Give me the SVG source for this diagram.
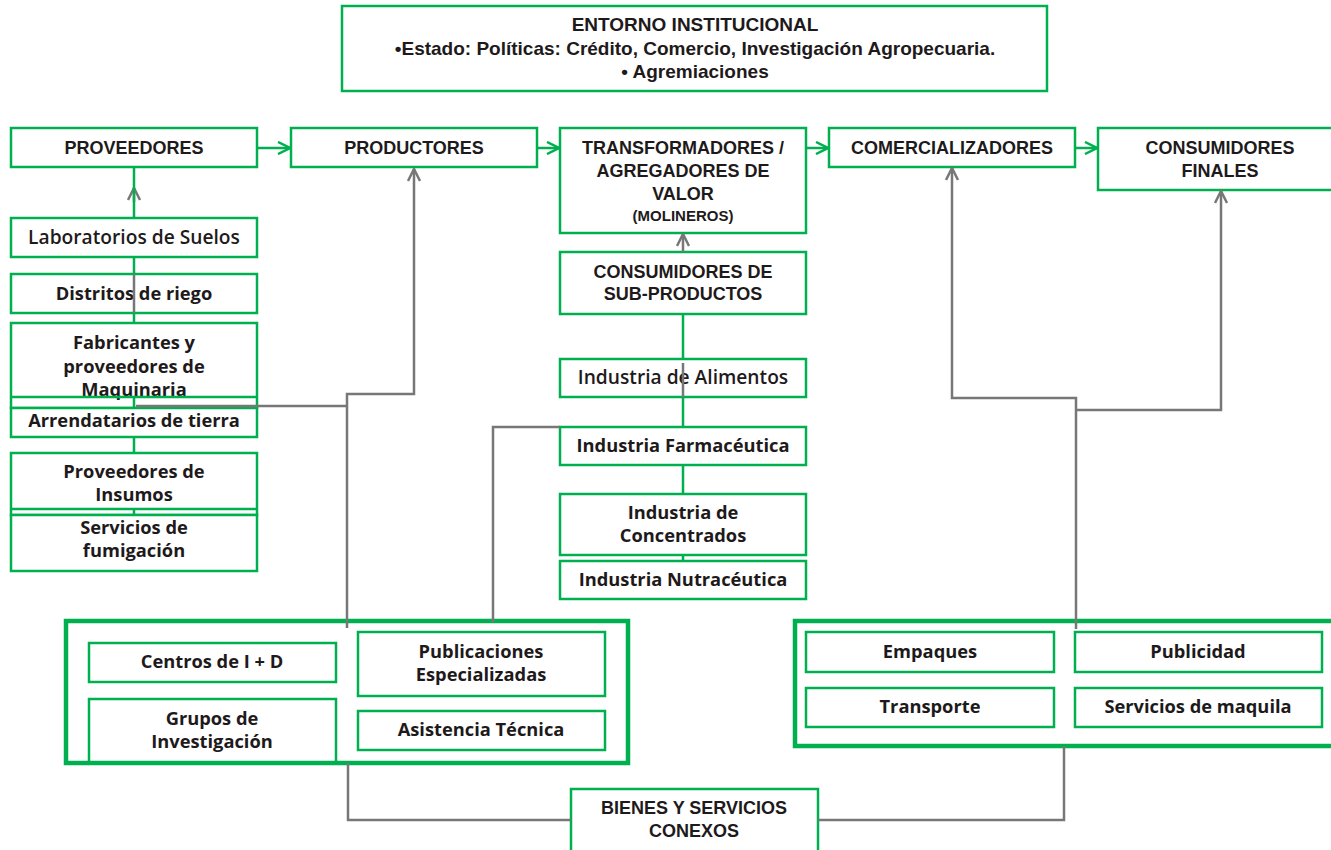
<svg xmlns="http://www.w3.org/2000/svg" width="1331" height="850" viewBox="0 0 1331 850">
<style>
.box{fill:#fff;stroke:#00b050;stroke-width:2.5}
.nofill{fill:none;stroke:#00b050;stroke-width:2.5}
.outer{fill:none;stroke:#00b050;stroke-width:4.5}
.g{fill:none;stroke:#00b050;stroke-width:2.5}
.k{fill:none;stroke:#777;stroke-width:2.5}
text{fill:#1e1a1b;text-anchor:middle}
.u{font-family:"Liberation Sans",Arial,sans-serif;font-weight:bold;font-size:18px}
.t{font-family:"Liberation Sans",Arial,sans-serif;font-weight:bold;font-size:19px}
.b{font-family:"Open Sans","Liberation Sans",sans-serif;font-weight:700;font-size:18.3px}
.s{font-family:"Open Sans","Liberation Sans",sans-serif;font-weight:600;font-size:19.2px}
.sm{font-family:"Liberation Sans",Arial,sans-serif;font-weight:bold;font-size:15px}
</style>
<defs>
<marker id="ag" viewBox="0 0 14 14" refX="13" refY="7" markerWidth="14" markerHeight="14" markerUnits="userSpaceOnUse" orient="auto"><path d="M1,1 L13,7 L1,13" fill="none" stroke="#00b050" stroke-width="2.5"/></marker>
<marker id="ak" viewBox="0 0 14 14" refX="13" refY="7" markerWidth="14" markerHeight="14" markerUnits="userSpaceOnUse" orient="auto"><path d="M1,1 L13,7 L1,13" fill="none" stroke="#777" stroke-width="2.5"/></marker>
</defs>

<g id="entorno"><rect class="box" x="342" y="6" width="705" height="85"/>
<text class="t" x="695" y="31">ENTORNO INSTITUCIONAL</text>
<text class="t" x="695" y="55">•Estado: Políticas: Crédito, Comercio, Investigación Agropecuaria.</text>
<text class="t" x="695" y="78">• Agremiaciones</text></g>

<g id="proveedores"><rect class="box" x="11" y="128" width="246" height="39"/><text class="u" x="134" y="154">PROVEEDORES</text></g>
<g id="productores"><rect class="box" x="291" y="128" width="246" height="39"/><text class="u" x="414" y="154">PRODUCTORES</text></g>
<g id="transformadores"><rect class="box" x="560" y="128" width="246" height="105"/>
<text class="u" x="683" y="154">TRANSFORMADORES /</text>
<text class="u" x="683" y="177">AGREGADORES DE</text>
<text class="u" x="683" y="200">VALOR</text>
<text class="sm" x="683" y="221">(MOLINEROS)</text></g>
<g id="comercializadores"><rect class="box" x="829" y="128" width="246" height="39"/><text class="u" x="952" y="154">COMERCIALIZADORES</text></g>
<g id="consumidores-finales"><rect class="box" x="1098" y="128" width="245" height="62"/>
<text class="u" x="1220" y="154">CONSUMIDORES</text><text class="u" x="1220" y="177">FINALES</text></g>

<g id="laboratorios"><rect class="box" x="11" y="218" width="246" height="39"/><text class="s" x="134" y="244">Laboratorios de Suelos</text></g>
<g id="distritos"><rect class="nofill" x="11" y="274" width="246" height="39"/><text class="b" x="134" y="300">Distritos de riego</text></g>
<g id="fabricantes"><rect class="box" x="11" y="323" width="246" height="85"/>
<text class="b" x="134" y="349">Fabricantes y</text><text class="b" x="134" y="373">proveedores de</text><text class="b" x="134" y="396">Maquinaria</text></g>
<g id="arrendatarios"><rect class="box" x="11" y="408" width="246" height="29"/><line class="g" x1="11" y1="397" x2="257" y2="397"/><text class="b" x="134" y="427">Arrendatarios de tierra</text></g>
<g id="insumos"><rect class="box" x="11" y="453" width="246" height="62"/><text class="b" x="134" y="478">Proveedores de</text><text class="b" x="134" y="501">Insumos</text></g>
<g id="fumigacion"><rect class="box" x="11" y="515" width="246" height="56"/><line class="g" x1="11" y1="509" x2="257" y2="509"/><text class="b" x="134" y="534">Servicios de</text><text class="b" x="134" y="557">fumigación</text></g>

<g id="subproductos"><rect class="box" x="560" y="252" width="246" height="62"/><text class="u" x="683" y="278">CONSUMIDORES DE</text><text class="u" x="683" y="300">SUB-PRODUCTOS</text></g>
<g id="alimentos"><rect class="box" x="560" y="359" width="246" height="38"/><text class="s" x="683" y="384">Industria de Alimentos</text></g>
<g id="farmaceutica"><rect class="box" x="560" y="427" width="246" height="38"/><text class="b" x="683" y="452">Industria Farmacéutica</text></g>
<g id="concentrados"><rect class="box" x="560" y="494" width="246" height="61"/><text class="b" x="683" y="519">Industria de</text><text class="b" x="683" y="542">Concentrados</text></g>
<g id="nutraceutica"><rect class="box" x="560" y="561" width="246" height="38"/><text class="b" x="683" y="586">Industria Nutracéutica</text></g>

<g id="grupo-conocimiento"><rect class="outer" x="66" y="621" width="562" height="142"/></g>
<g id="centros"><rect class="box" x="89" y="643" width="247" height="39"/><text class="b" x="212" y="668">Centros de I + D</text></g>
<g id="grupos"><rect class="nofill" x="89" y="699" width="247" height="64"/><text class="b" x="212" y="725">Grupos de</text><text class="b" x="212" y="748">Investigación</text></g>
<g id="publicaciones"><rect class="box" x="358" y="632" width="247" height="64"/><text class="b" x="481" y="658">Publicaciones</text><text class="b" x="481" y="681">Especializadas</text></g>
<g id="asistencia"><rect class="box" x="358" y="711" width="247" height="39"/><text class="b" x="481" y="736">Asistencia Técnica</text></g>

<g id="grupo-servicios"><rect class="outer" x="795" y="621" width="550" height="125"/></g>
<g id="empaques"><rect class="box" x="806" y="632" width="248" height="40"/><text class="b" x="930" y="658">Empaques</text></g>
<g id="publicidad"><rect class="box" x="1075" y="632" width="247" height="40"/><text class="b" x="1198" y="658">Publicidad</text></g>
<g id="transporte"><rect class="box" x="806" y="688" width="248" height="39"/><text class="b" x="930" y="713">Transporte</text></g>
<g id="maquila"><rect class="box" x="1075" y="688" width="247" height="39"/><text class="b" x="1198" y="713">Servicios de maquila</text></g>

<g id="bienes"><rect class="box" x="571" y="789" width="247" height="80"/><text class="u" x="694" y="814">BIENES Y SERVICIOS</text><text class="u" x="694" y="837">CONEXOS</text></g>

<g id="connectors">
<path class="g" d="M257,148 H290" marker-end="url(#ag)"/>
<path class="g" d="M537,148 H559" marker-end="url(#ag)"/>
<path class="g" d="M806,148 H828" marker-end="url(#ag)"/>
<path class="g" d="M1075,148 H1097" marker-end="url(#ag)"/>
<path class="k" d="M134,202 V188" marker-end="url(#ak)"/>
<path class="k" d="M134,274 V313"/>
<path class="g" d="M134,167 V218 M134,257 V274 M134,313 V323 M134,397 V408 M134,437 V453 M134,509 V515"/>
<path class="k" d="M136,406 H347"/>
<path class="k" d="M347,628 V394 H414 V169" marker-end="url(#ak)"/>
<path class="k" d="M493,622 V427 H560"/>
<path class="k" d="M683,363 V397"/>
<path class="k" d="M683,252 V234" marker-end="url(#ak)"/>
<path class="g" d="M683,314 V359 M683,397 V427 M683,465 V494 M683,555 V561"/>
<path class="k" d="M1076,629 V398 H952 V168" marker-end="url(#ak)"/>
<path class="k" d="M1076,410 H1221 V191" marker-end="url(#ak)"/>
<path class="k" d="M348,763 V820 H571"/>
<path class="k" d="M1064,746 V820 H818"/>
</g>
</svg>
